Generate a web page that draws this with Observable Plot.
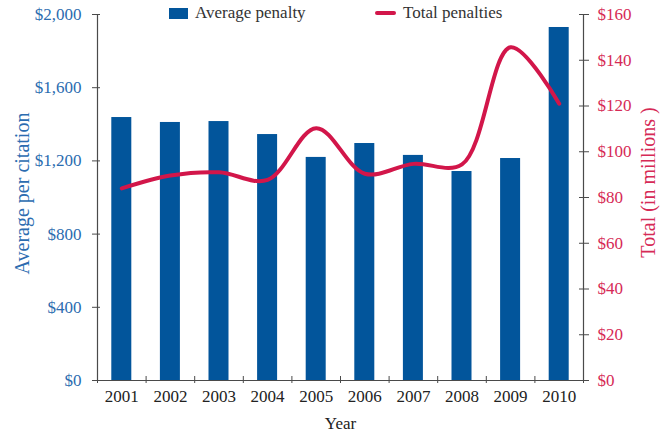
<!DOCTYPE html>
<html>
<head>
<meta charset="utf-8">
<script src="https://cdn.jsdelivr.net/npm/d3@7"></script>
<script src="https://cdn.jsdelivr.net/npm/@observablehq/plot@0.6"></script>
<style>
  body { margin: 0; background: #fff; }
  #wrap { position: relative; width: 668px; height: 434px; font-family: "Liberation Serif", "Times New Roman", serif; }
  .legend { position: absolute; top: 3px; font-size: 17px; color: #333; display: flex; align-items: center; white-space: nowrap; }
  .sw-bar { width: 19px; height: 11px; background: #02559b; margin-right: 7px; }
  .sw-line { width: 21px; height: 4px; border-radius: 2px; background: #d2164a; margin-right: 7px; }
</style>
</head>
<body>
<div id="wrap">
  <div class="legend" style="left:169px"><span class="sw-bar"></span>Average penalty</div>
  <div class="legend" style="left:375px"><span class="sw-line"></span>Total penalties</div>
</div>
<script>
const years = [2001, 2002, 2003, 2004, 2005, 2006, 2007, 2008, 2009, 2010];
const averagePenalty = [1437, 1410, 1415, 1344, 1219, 1295, 1230, 1142, 1213, 1929];
const totalPenalties = [84, 89.6, 91, 87.7, 110.3, 90.4, 94.7, 94.5, 145.7, 121];
const leftTicks = [0, 400, 800, 1200, 1600, 2000];
const rightTicks = [0, 20, 40, 60, 80, 100, 120, 140, 160];
const leftMax = 2000;
const rightMax = 160;
const ratio = leftMax / rightMax;

const data = years.map((year, i) => ({year, avg: averagePenalty[i], total: totalPenalties[i]}));
const boundaries = years.map(y => y - 0.5).concat([years[years.length - 1] + 0.5]);

const blue = "#02559b";
const blueText = "#2b6cb0";
const red = "#d2164a";
const redText = "#d62a56";
const axisGray = "#4a4a4a";

const chart = Plot.plot({
  width: 668,
  height: 434,
  marginTop: 14,
  marginBottom: 54,
  marginLeft: 97,
  marginRight: 85,
  style: {fontFamily: "Liberation Serif, Times New Roman, serif", fontSize: "17px", background: "transparent", overflow: "visible"},
  x: {type: "linear", domain: [boundaries[0], boundaries[boundaries.length - 1]], axis: null},
  y: {domain: [0, leftMax], axis: null},
  marks: [
    Plot.rectY(data, {x1: d => d.year - 0.5, x2: d => d.year + 0.5, y: "avg", fill: blue, insetLeft: 14.3, insetRight: 14.3}),
    Plot.line(data, {x: "year", y: d => d.total * ratio, stroke: red, strokeWidth: 4, curve: "catmull-rom", strokeLinecap: "round"}),
    Plot.ruleX([boundaries[0], boundaries[boundaries.length - 1]], {stroke: axisGray, strokeWidth: 1.2}),
    Plot.ruleY([0], {stroke: axisGray, strokeWidth: 1.2}),
    Plot.axisY({anchor: "left", ticks: leftTicks, tickSize: 8, insetLeft: 3, tickPadding: 11,
      tickFormat: d => "$" + d3.format(",")(d), stroke: axisGray, fill: blueText, fontSize: 17, label: null}),
    Plot.axisY({anchor: "right", ticks: rightTicks.map(t => t * ratio), tickSize: 10, insetRight: 5, tickPadding: 9,
      tickFormat: d => "$" + Math.round(d / ratio), stroke: axisGray, fill: redText, fontSize: 17, label: null}),
    Plot.axisX({anchor: "bottom", ticks: boundaries, tickSize: 7, insetBottom: 4, tickFormat: () => "", stroke: axisGray, label: null}),
    Plot.axisX({anchor: "bottom", ticks: years, tickSize: 0, tickPadding: 9, tickFormat: d => String(d), fill: "#222", fontSize: 17, label: null}),
    Plot.text(["Year"], {frameAnchor: "bottom", dy: 43, text: d => d, fill: "#222", fontSize: 17, lineAnchor: "middle"}),
    Plot.text(["Average per citation"], {frameAnchor: "left", dx: -75, dy: -4, rotate: -90, text: d => d, fill: blueText, fontSize: 20, textAnchor: "middle", lineAnchor: "middle"}),
    Plot.text(["Total (in millions )"], {frameAnchor: "right", dx: 65, dy: -15, rotate: -90, text: d => d, fill: redText, fontSize: 20, textAnchor: "middle", lineAnchor: "middle"})
  ]
});
document.getElementById("wrap").prepend(chart);
chart.style.position = "absolute";
chart.style.left = "0";
chart.style.top = "0";
</script>
</body>
</html>
